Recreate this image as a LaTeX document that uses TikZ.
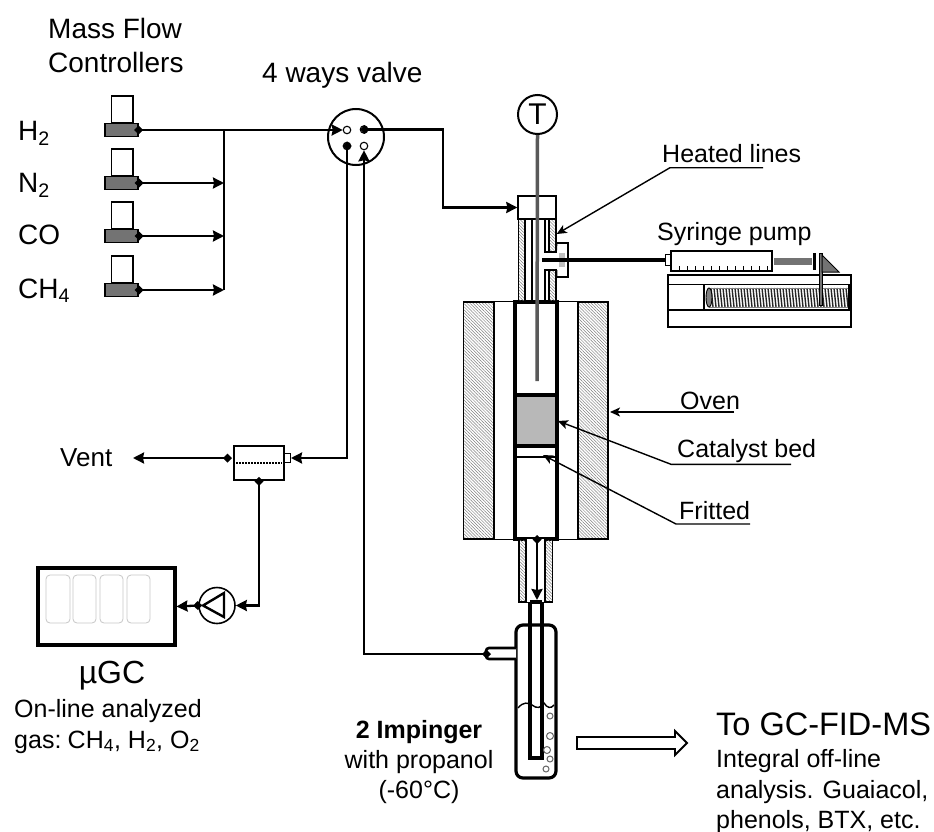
\documentclass[tikz,border=0pt]{standalone}
\usepackage{fontspec}
\setmainfont{Liberation Sans}
\usetikzlibrary{arrows.meta,patterns.meta}

\tikzset{
    lab/.style={anchor=base west, inner sep=0pt, font=\fontsize{25}{30}\selectfont},
    labbig/.style={lab, font=\fontsize{28}{32}\selectfont},
    labmid/.style={anchor=base, inner sep=0pt, font=\fontsize{25}{30}\selectfont},
    pipe/.style={line width=2.3pt},
    flow/.style={pipe, shorten <=-4pt, {Diamond[length=9pt,width=9pt]}-{Stealth[length=11pt,width=11pt,inset=1pt]}},
    flowend/.style={pipe, -{Stealth[length=11pt,width=11pt,inset=1pt]}},
    leader/.style={line width=1.4pt, -{Stealth[length=10pt,width=9pt,inset=2.5pt]}},
    hatched/.style={draw, line width=1.2pt, pattern={Lines[angle=-45,distance=2.2pt,line width=0.5pt]}, pattern color=black!50},
    outline/.style={draw, line width=1.4pt},
    port/.style={circle, draw, fill=white, line width=1.1pt, inner sep=0pt, minimum size=7.5pt},
    cell/.style={draw=black!22, line width=0.8pt, rounded corners=4pt},
    bubble/.style={draw=black!60, line width=1pt},
}

\begin{document}
\begin{tikzpicture}[x=1pt,y=-1pt]
    \useasboundingbox (0,0) rectangle (934,832);

    % mass flow controllers
    \node[labbig] at (48,39) {Mass Flow};
    \node[labbig] at (48,73) {Controllers};
    \foreach \name/\y/\base/\gas in {H/130/140/H\textsubscript{2}, N/183/192/N\textsubscript{2}, C/236/244/CO, M/290/298/CH\textsubscript{4}} {
        \draw[outline, fill=white] (111.5,\y-34) rectangle (133,\y-7);
        \node[draw, line width=1.4pt, fill=black!55, inner sep=0pt, minimum width=33pt, minimum height=13pt] (mfc\name) at (121.5,\y) {};
        \node[labbig] (gas\name) at (18,\base) {\gas};
        \coordinate (bus\name) at (224,\y);
    }
    \draw[pipe] (busH) -- (busM);
    \draw[flow] (mfcN.east) -- (busN);
    \draw[flow] (mfcC.east) -- (busC);
    \draw[flow] (mfcM.east) -- (busM);

    % valve
    \node[labbig] at (262,83) {4 ways valve};
    \node[circle, draw, line width=2pt, inner sep=0pt, minimum size=56pt] (valve) at (356,137) {};
    \node[port] (portA) at (347,130) {};
    \node[port] (portB) at (364,129.5) {};
    \node[port] (portC) at (347,146) {};
    \node[port] (portD) at (364,146) {};
    \draw[flowend] (mfcH.east) -- (portA.west);
    \fill (mfcH.east) ++(-4.5,0) -- ++(4.5,-4.5) -- ++(4.5,4.5) -- ++(-4.5,4.5) -- cycle;

    % oven and reactor tube
    \draw[outline] (463.5,302) rectangle (608,539);
    \fill[white] (494,302) rectangle (578,539);
    \path[hatched] (463.5,302) rectangle (494,539);
    \path[hatched] (578,302) rectangle (608,539);
    \draw[line width=3.2pt, fill=white] (515,302) rectangle (557,539);
    \draw[line width=3.2pt, fill=black!28] (515,395) rectangle (557,446);
    \draw[line width=1.5pt] (515,457) -- (557,457);

    % upper fitting
    \node[outline, fill=white, inner sep=0pt, minimum width=38pt, minimum height=23pt] (head) at (537,207.5) {};
    \path[hatched] (518.5,219) rectangle (525,302);
    \path[hatched] (549,219) rectangle (556,252);
    \path[hatched] (549,270) rectangle (556,302);
    \draw[line width=1.8pt] (518.5,219) -- (518.5,302);
    \draw[line width=1.8pt] (525,219) -- (525,302);
    \draw[line width=1.8pt] (532,219) -- (532,302);
    \draw[line width=1.8pt] (556,219) -- (556,252) -- (556.5,243) -- (568,243) -- (568,277) -- (556.5,277) -- (556.5,270);
    \draw[line width=1.8pt] (556,270) -- (556,302);
    \draw[line width=1.8pt] (545,219) -- (545,252) -- (556,252);
    \draw[line width=1.8pt] (545,302) -- (545,270) -- (556,270);
    \draw[line width=1.2pt] (549,219) -- (549,252);
    \draw[line width=1.2pt] (549,270) -- (549,302);

    % thermocouple
    \node[circle, draw, line width=2pt, fill=white, inner sep=0pt, minimum size=39pt, font=\fontsize{30}{32}\selectfont] (therm) at (537.5,114.5) {T};
    \coordinate (rodEnd) at (537,381);
    \draw[line width=3.5pt, black!65] (therm.south) -- (rodEnd);

    % syringe line and pump
    \fill[black!25] (559,253) rectangle (565,267);
    \node[outline, fill=white, inner sep=0pt, minimum width=6pt, minimum height=11pt] (tip) at (668.5,260) {};
    \coordinate (needle) at (542,260);
    \draw[line width=4.5pt] (needle) -- (tip.west);
    \node[outline, fill=white, inner sep=0pt, minimum width=101pt, minimum height=20pt] (syringe) at (721.5,261) {};
    \foreach \x in {679,687,...,767} {
        \draw[line width=0.9pt] (\x,266) -- (\x,271);
    }
    \draw[outline] (668,275) rectangle (851,327);
    \draw[line width=1.4pt] (668,284.5) -- (851,284.5);
    \draw[line width=1.4pt] (668,310) -- (851,310);
    \draw[line width=1.4pt] (704,284.5) -- (704,310);
    \fill[black!55] (773.5,258) rectangle (812,265);
    \fill (813,253) rectangle (816,270);
    \foreach \x in {711,714,...,846} {
        \draw[line width=1.4pt, black!85] (\x,288) -- (\x+2,307);
    }
    \draw[line width=0.7pt, black!50] (709,288) -- (848,288);
    \draw[line width=0.7pt, black!50] (709,307) -- (848,307);
    \draw[line width=0.9pt, fill=black!50] (709,297.5) ellipse (3 and 9.5);
    \fill (848,284.5) rectangle (851,310);
    \draw[line width=1pt, fill=black!55] (819,253) rectangle (822,305);
    \draw[line width=1pt, fill=black!55] (822,255) -- (839,272) -- (822,272) -- cycle;
    \node[lab] (pumpLabel) at (657,240) {Syringe pump};

    % flow out of the valve
    \coordinate (bendB) at (443,129.5);
    \draw[flow] (portB.center) -| (bendB) |- (head.west);

    % lower fitting
    \path[hatched] (519,539) rectangle (552.5,602);
    \fill[white] (526,539) rectangle (545,602);
    \draw[line width=1.4pt] (526,539) -- (526,602);
    \draw[line width=1.4pt] (545,539) -- (545,602);
    \coordinate (tubeIn) at (537,539);
    \coordinate (tubeOut) at (537,600);
    \draw[flow] (tubeIn) -- (tubeOut);

    % impinger
    \draw[line width=3.2pt, rounded corners=7pt] (516,625) rectangle (556,778);
    \draw[line width=3.2pt] (530,602) -- (530,758) -- (542,758) -- (542,602);
    \draw[line width=3.2pt] (530,602) -- (542,602);
    \draw[line width=1.4pt] (518,708) .. controls (524,701) and (528,703) .. (532,705) .. controls (537,709) and (541,708) .. (544,703) .. controls (547,708) and (551,709) .. (554,705);
    \foreach \x/\y/\r in {550/716/3, 550/736/3.5, 547/750/3.5, 550/759/3, 546/769/3} {
        \draw[bubble] (\x,\y) circle (\r);
    }
    \draw[line width=2.6pt, fill=white, rounded corners=3pt] (516,648) -- (486,648) -- (486,659) -- (516,659);
    \coordinate (armEnd) at (487,654);
    \draw[flow] (armEnd) -| (portD.south);
    \draw[line width=1.8pt] (577,737) -- (675,737) -- (675,731) -- (687,743) -- (675,755) -- (675,749) -- (577,749) -- cycle;

    % leaders
    \coordinate (heatedA) at (763,167.7);
    \coordinate (heatedB) at (670,167.7);
    \coordinate (heatedC) at (556.7,234);
    \draw[leader] (heatedA) -- (heatedB) -- (heatedC);
    \coordinate (ovenA) at (734,412);
    \coordinate (ovenB) at (610,412);
    \draw[leader] (ovenA) -- (ovenB);
    \coordinate (bedA) at (791,464.3);
    \coordinate (bedB) at (671,464.3);
    \coordinate (bedC) at (558,421);
    \draw[leader] (bedA) -- (bedB) -- (bedC);
    \coordinate (fritA) at (750,524);
    \coordinate (fritB) at (676,524);
    \coordinate (fritC) at (543,455);
    \draw[leader] (fritA) -- (fritB) -- (fritC);
    \node[lab] at (662,162.5) {Heated lines};
    \node[lab] at (680,409) {Oven};
    \node[lab] at (677,457.5) {Catalyst bed};
    \node[lab] at (679,519) {Fritted};

    % splitter, vent and GC
    \node[draw, line width=1.6pt, fill=white, inner sep=0pt, minimum width=50pt, minimum height=34pt] (filter) at (259,463) {};
    \draw[line width=2.4pt, dash pattern=on 1.6pt off 1.4pt] (236,463) -- (282,463);
    \node[draw, line width=1pt, fill=white, inner sep=0pt, minimum width=6pt, minimum height=8.5pt] (filterPort) at (287.5,458) {};
    \draw[flowend] (portC.center) |- (filterPort.east);
    \fill (portC.center) ++(-4.5,0) -- ++(4.5,-4.5) -- ++(4.5,4.5) -- ++(-4.5,4.5) -- cycle;
    \coordinate (filterOut) at (228,458);
    \coordinate (ventEnd) at (133,458);
    \draw[flow] (filterOut) -- (ventEnd);
    \node[labbig, font=\fontsize{26}{30}\selectfont] at (60,466.5) {Vent};
    \node[draw, line width=4pt, fill=white, inner sep=0pt, minimum width=137pt, minimum height=77pt] (gc) at (106,606.5) {};
    \foreach \xa/\xb in {46/70, 73/96, 100/123, 127/150} {
        \draw[cell] (\xa,575) rectangle (\xb,623);
    }
    \node[circle, draw, line width=1.6pt, fill=white, inner sep=0pt, minimum size=36pt] (pump) at (217,605.5) {};
    \draw[line width=2.4pt] (203,605.5) -- (224,593) -- (224,617) -- cycle;
    \draw[flow] (filter.south) |- (pump.east);
    \draw[flow] (pump.west) -- (gc.east);
    \node[anchor=base, inner sep=0pt, font=\fontsize{32}{36}\selectfont] at (112,683) {µGC};
    \node[lab] at (14,717) {On-line analyzed};
    \node[lab] at (14,748) {gas:\hspace{-3pt} CH\textsubscript{4}, H\textsubscript{2}, O\textsubscript{2}};

    % bottom texts
    \node[labmid] at (419,738) {\textbf{2 Impinger}};
    \node[labmid] at (419,768) {with propanol};
    \node[labmid] at (419,798) {(-60°C)};
    \node[lab, font=\fontsize{32.5}{36}\selectfont] at (716,735) {To GC-FID-MS};
    \node[lab] at (716,767.5) {Integral off-line};
    \node[lab] at (716,798) {analysis. Guaiacol,};
    \node[lab] at (716,828) {phenols, BTX, etc.};
\end{tikzpicture}
\end{document}
